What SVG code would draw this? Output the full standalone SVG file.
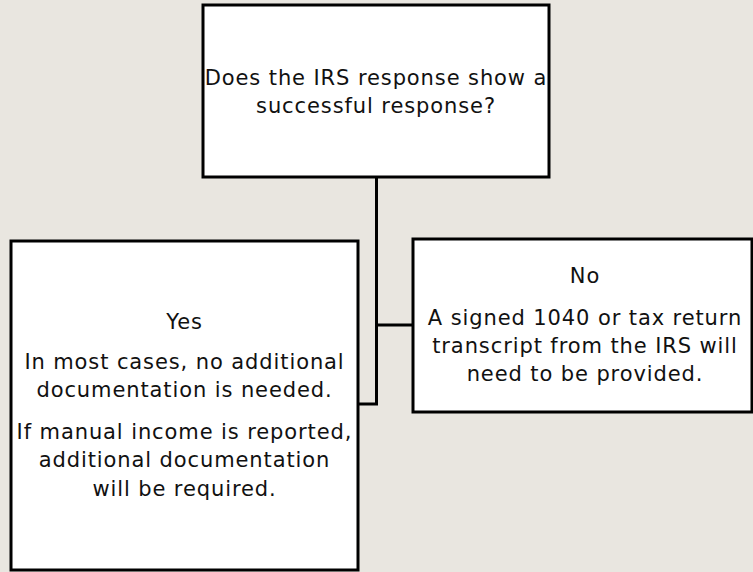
<svg xmlns="http://www.w3.org/2000/svg" width="753" height="572" viewBox="0 0 753 572">
<style>
.box{fill:#ffffff;stroke:#000000;stroke-width:3}
.conn{fill:none;stroke:#000000;stroke-width:3}
text{font-family:"DejaVu Sans","Noto Sans",sans-serif;font-size:21px;letter-spacing:0.9px;fill:#111111;text-anchor:middle}
</style>
<rect x="0" y="0" width="753" height="572" fill="#e9e6e0"/>
<g id="connectors">
<path class="conn" d="M376.5 177 V404 H358"/>
<path class="conn" d="M376.5 325 H413"/>
</g>
<g id="question">
<rect class="box" x="203" y="5" width="346" height="172"/>
<text x="376" y="85">Does the IRS response show a</text>
<text x="376" y="113">successful response?</text>
</g>
<g id="yes">
<rect class="box" x="11" y="241" width="347" height="329"/>
<text x="184.5" y="329">Yes</text>
<text x="184.5" y="369">In most cases, no additional</text>
<text x="184.5" y="397">documentation is needed.</text>
<text x="184.5" y="439">If manual income is reported,</text>
<text x="184.5" y="467">additional documentation</text>
<text x="184.5" y="496">will be required.</text>
</g>
<g id="no">
<rect class="box" x="413" y="239" width="339" height="173"/>
<text x="585" y="283">No</text>
<text x="585" y="325">A signed 1040 or tax return</text>
<text x="585" y="353">transcript from the IRS will</text>
<text x="585" y="381">need to be provided.</text>
</g>
</svg>
